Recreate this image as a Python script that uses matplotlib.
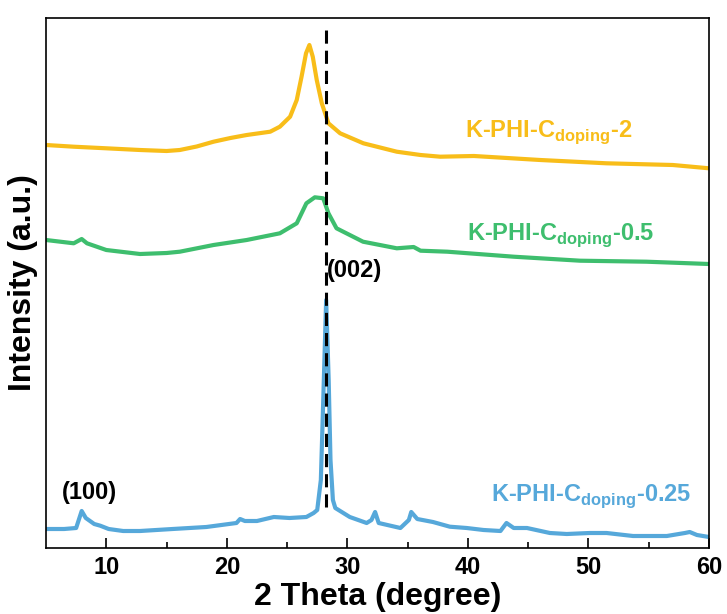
import matplotlib
matplotlib.use("Agg")
import matplotlib.pyplot as plt

plt.rcParams['font.family'] = ['Liberation Sans', 'DejaVu Sans']
plt.rcParams['mathtext.fontset'] = 'custom'
plt.rcParams['mathtext.rm'] = 'Liberation Sans'
plt.rcParams['mathtext.bf'] = 'Liberation Sans:bold'

# ---- data (2 theta in degree, intensity in arbitrary units, offset stacked) ----
x_025 = [5.0, 6.5, 7.5, 7.96, 8.3, 9.0, 9.5, 10.2, 11.4, 12.8, 15.5, 18.3, 20.8, 21.1, 21.5,
         22.5, 23.9, 25.2, 26.6, 27.2, 27.5, 27.8, 28.0, 28.24, 28.45, 28.6, 28.8, 29.0, 30.2,
         31.6, 32.0, 32.3, 32.6, 34.4, 35.1, 35.3, 35.8, 37.1, 38.5, 39.9, 41.3, 42.7, 43.2,
         43.8, 44.9, 46.8, 48.2, 50.1, 51.5, 53.7, 56.5, 58.0, 58.4, 59.0, 60.0]
y_025 = [19, 19, 20, 37, 30, 24, 22.3, 19, 17, 17, 19, 21, 25, 29, 27,
         27, 31, 30, 31, 35, 38, 68, 148, 248, 168, 88, 48, 40, 31,
         25, 28, 36, 25, 20, 28, 36, 29, 26, 21.3, 20, 18, 17, 25,
         20, 20, 15, 14, 15, 15, 12, 12, 15, 16, 13, 11]

x_05 = [5.0, 7.3, 7.96, 8.4, 10.0, 12.8, 15.0, 16.1, 18.9, 21.65, 24.4, 25.8, 26.6, 27.3,
        28.0, 28.43, 29.1, 31.3, 34.1, 35.5, 36.07, 38.3, 43.8, 49.3, 54.8, 60.0]
y_05 = [308, 304.7, 309, 304.7, 298, 294, 295, 296.3, 303, 308, 314.7, 324.7, 344.7, 350.7,
        349.7, 334.7, 319.7, 306.3, 299.7, 301, 297.3, 296.3, 291.3, 287.3, 286.3, 284]

x_2 = [5.0, 7.3, 10.0, 12.8, 15.0, 16.1, 17.5, 18.9, 20.3, 21.65, 23.6, 24.4, 25.25, 25.8,
       26.2, 26.57, 26.85, 27.13, 27.46, 27.88, 28.43, 29.4, 31.33, 34.1, 36.07, 37.7, 40.5,
       46.0, 51.5, 57.0, 60.0]
y_2 = [403, 401.3, 399.7, 398, 397, 398, 401.5, 406.3, 410, 413, 416.3, 421.3, 431.3, 448,
       471.3, 494.7, 503, 491.3, 468, 444.7, 424.7, 414.7, 404.7, 396.3, 393, 391.3, 392,
       388, 384.7, 383, 379.7]

labels = ["K-PHI-C$_{\\mathbf{doping}}$-0.25", "K-PHI-C$_{\\mathbf{doping}}$-0.5",
          "K-PHI-C$_{\\mathbf{doping}}$-2"]
peak_labels = ["(100)", "(002)"]
ref_line_x = 28.2

c_blue = '#56A8DA'
c_green = '#3EBE6E'
c_yellow = '#F8BD19'

fig = plt.figure(figsize=(7.27, 6.14), dpi=100)
ax = fig.add_axes([46 / 727, 66 / 614, 663 / 727, 530 / 614])

for xs, ys, col in [(x_025, y_025, c_blue), (x_05, y_05, c_green), (x_2, y_2, c_yellow)]:
    ax.plot(xs, ys, color=col, lw=3.0, solid_joinstyle='round', solid_capstyle='butt')

ax.plot([ref_line_x, ref_line_x], [41, 520], color='black', lw=2.2, dashes=(4.3, 2.3))

ax.set_xlim(5, 60)
ax.set_ylim(0, 530)
ax.set_xticks([10, 20, 30, 40, 50, 60])
ax.set_xticks([15, 25, 35, 45, 55], minor=True)
ax.set_yticks([])
ax.tick_params(axis='x', which='major', direction='in', length=7, width=1.2,
               labelsize=17, pad=6)
ax.tick_params(axis='x', which='minor', direction='in', length=4, width=1.2)
for lab in ax.get_xticklabels():
    lab.set_fontweight('bold')
for s in ax.spines.values():
    s.set_linewidth(1.2)

ax.set_xlabel("2 Theta (degree)", fontsize=23, fontweight='bold', labelpad=2)
ax.set_ylabel("Intensity (a.u.)", fontsize=23, fontweight='bold', labelpad=6)

fs = 17


def px_to_data(px, py):
    xd = 5 + (px - 46) / 663 * 55
    yd = 548 - py
    return xd, yd


for lab, col, (px, py) in zip(labels, [c_blue, c_green, c_yellow],
                              [(490.7, 500.7), (467, 240), (465, 137)]):
    xd, yd = px_to_data(px, py)
    ax.text(xd, yd, lab, color=col, fontsize=fs, fontweight='bold', ha='left', va='baseline')

xd, yd = px_to_data(89, 499)
ax.text(xd, yd, peak_labels[0], fontsize=fs, fontweight='bold', ha='center', va='baseline')
xd, yd = px_to_data(327, 277)
ax.text(xd, yd, peak_labels[1], fontsize=fs, fontweight='bold', ha='left', va='baseline')

fig.savefig("out.png", dpi=100)
